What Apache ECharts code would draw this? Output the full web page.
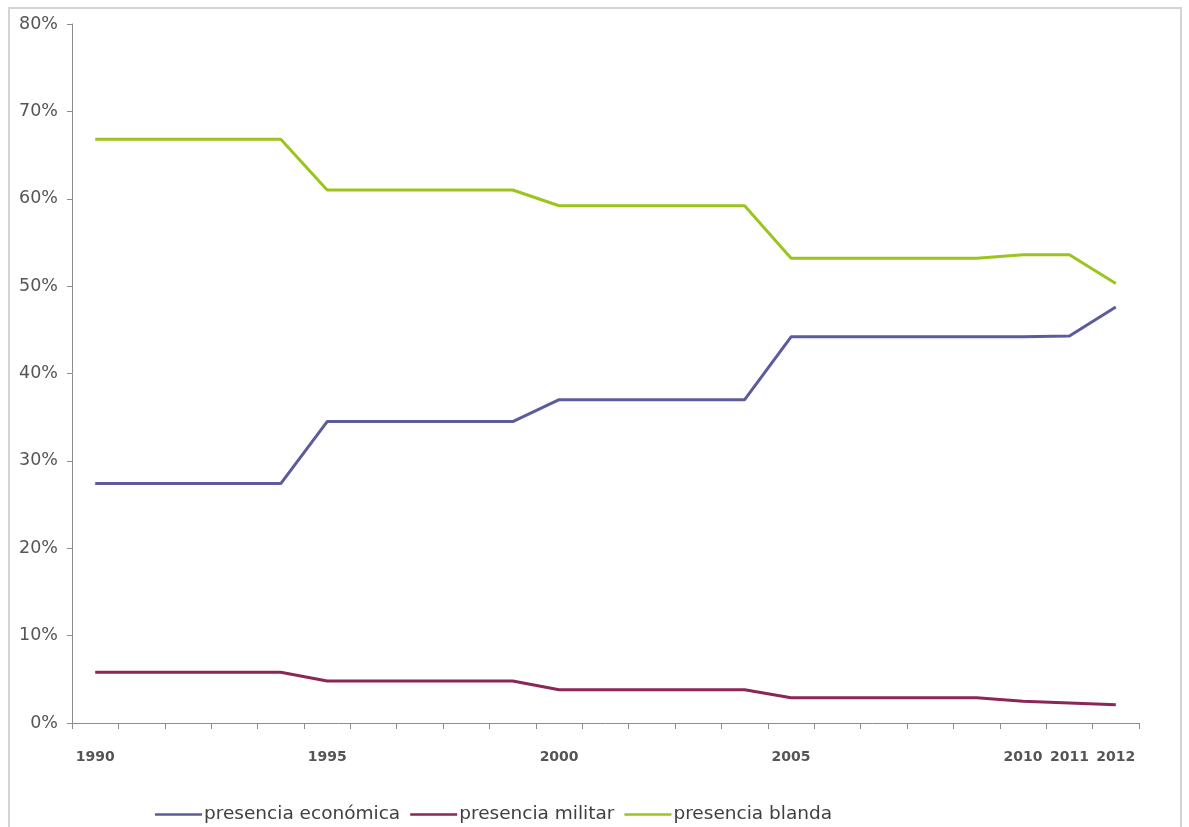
<!DOCTYPE html>
<html><head><meta charset="utf-8">
<script src="https://cdn.jsdelivr.net/npm/echarts@6/dist/echarts.min.js"></script>
<style>
html,body{margin:0;padding:0;background:#fff;}
#frame{position:absolute;left:8px;top:7px;width:1174px;height:840px;border:2px solid #d4d4d4;box-sizing:border-box;}
#c{position:absolute;left:0;top:0;width:1189px;height:827px;}
</style></head>
<body>
<div id="frame"></div>
<div id="c"></div>
<script>
const years = ['1990','1991','1992','1993','1994','1995','1996','1997','1998','1999','2000','2001','2002','2003','2004','2005','2006','2007','2008','2009','2010','2011','2012'];
const shownYears = ['1990','1995','2000','2005','2010','2011','2012'];
const economica = [27.4,27.4,27.4,27.4,27.4,34.5,34.5,34.5,34.5,34.5,37.0,37.0,37.0,37.0,37.0,44.2,44.2,44.2,44.2,44.2,44.2,44.3,47.6];
const militar   = [5.8,5.8,5.8,5.8,5.8,4.8,4.8,4.8,4.8,4.8,3.8,3.8,3.8,3.8,3.8,2.9,2.9,2.9,2.9,2.9,2.5,2.3,2.1];
const blanda    = [66.8,66.8,66.8,66.8,66.8,61.0,61.0,61.0,61.0,61.0,59.2,59.2,59.2,59.2,59.2,53.2,53.2,53.2,53.2,53.2,53.6,53.6,50.3];
const seriesNames = ['presencia económica','presencia militar','presencia blanda'];
const yTicks = [0,10,20,30,40,50,60,70,80];

const chart = echarts.init(document.getElementById('c'), null, {renderer:'canvas'});
const font = '"DejaVu Sans", "Open Sans", sans-serif';
const mk = (name, data, color) => ({
  name, type:'line', data, showSymbol:false, symbol:'none',
  lineStyle:{color, width:3}, itemStyle:{color}, animation:false
});
chart.setOption({
  animation:false,
  grid:{left:72, right:50, top:24, bottom:104},
  legend:{
    left:150, top:800, itemWidth:47, itemHeight:2.5, itemGap:10, icon:'rect',
    textStyle:{fontFamily:font, fontSize:18.5, color:'#404040', padding:[0,0,0,-3]},
    data:seriesNames
  },
  xAxis:{
    type:'category', data:years, boundaryGap:true,
    axisLine:{lineStyle:{color:'#8c8c8c', width:1}},
    axisTick:{show:true, interval:0, length:6, lineStyle:{color:'#8c8c8c'}},
    axisLabel:{
      interval:(i, v) => shownYears.indexOf(v) >= 0,
      margin:27, fontFamily:font, fontSize:14, fontWeight:'bold', color:'#555'
    }
  },
  yAxis:{
    type:'value', min:yTicks[0], max:yTicks[yTicks.length-1], interval:10,
    splitLine:{show:false},
    axisLine:{show:true, lineStyle:{color:'#8c8c8c', width:1}},
    axisTick:{show:true, length:5, lineStyle:{color:'#8c8c8c'}},
    axisLabel:{formatter:'{value}%', margin:14, fontFamily:font, fontSize:17.5, color:'#555'}
  },
  series:[
    mk(seriesNames[0], economica, '#5c5b9c'),
    mk(seriesNames[1], militar, '#8c2658'),
    mk(seriesNames[2], blanda, '#9bc41e')
  ]
});
</script>
</body></html>
